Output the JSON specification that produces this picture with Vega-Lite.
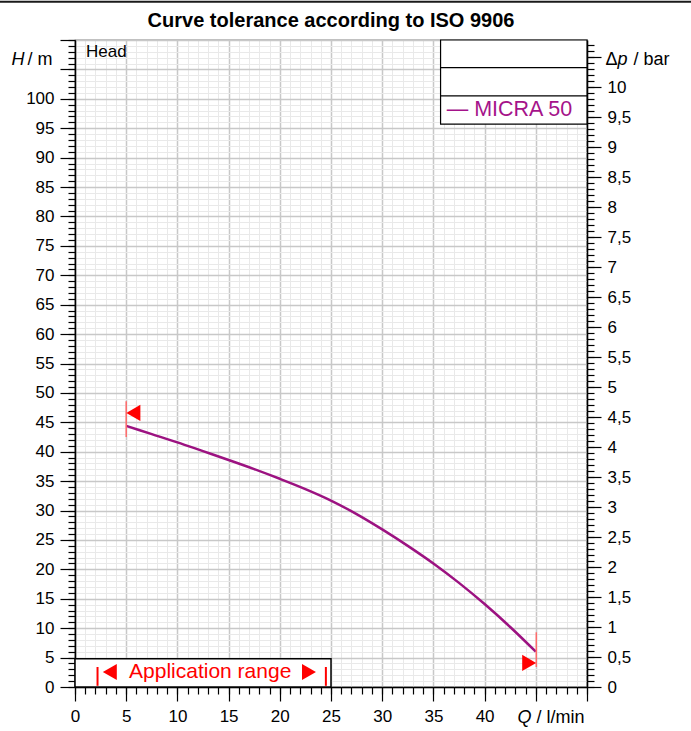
{
  "$schema": "https://vega.github.io/schema/vega-lite/v6.json",
  "width": 512,
  "height": 647,
  "autosize": {"type": "none"},
  "padding": {"left": 75, "top": 40, "right": 104, "bottom": 44},
  "background": "white",
  "config": {
    "view": {"stroke": "#000", "strokeWidth": 1.2},
    "font": "Liberation Sans",
    "axis": {"labelFont": "Liberation Sans", "titleFont": "Liberation Sans", "labelColor": "#000", "titleColor": "#000", "tickColor": "#000", "labelFontSize": 17, "titleFontSize": 18, "titleFontWeight": "normal", "domain": false, "labelOverlap": false, "labelFlush": false, "grid": false, "tickWidth": 1.2}
  },
  "datasets": {
    "curve": [
      {"Q": 5, "H": 44.4}, {"Q": 7.5, "H": 43.0}, {"Q": 10, "H": 41.6}, {"Q": 12.5, "H": 40.1},
      {"Q": 15, "H": 38.6}, {"Q": 17.5, "H": 37.05}, {"Q": 20, "H": 35.4}, {"Q": 22.5, "H": 33.65},
      {"Q": 25, "H": 31.7}, {"Q": 27.5, "H": 29.4}, {"Q": 30, "H": 26.8}, {"Q": 32.5, "H": 24.0},
      {"Q": 35, "H": 21.0}, {"Q": 37.5, "H": 17.7}, {"Q": 40, "H": 14.1}, {"Q": 42.5, "H": 10.2},
      {"Q": 45, "H": 6.0}
    ],
    "pressure": [{"dp": 0}, {"dp": 10}]
  },
  "resolve": {"scale": {"y": "independent"}, "axis": {"x": "independent", "y": "independent"}},
  "layer": [
    {
      "data": {"name": "curve"},
      "mark": {"type": "point", "opacity": 0},
      "encoding": {
        "x": {"field": "Q", "type": "quantitative", "scale": {"domain": [0, 50], "nice": false, "zero": false},
          "axis": {"orient": "bottom", "tickCount": 50, "grid": true, "gridColor": "#e9e9e9", "gridWidth": 1, "tickSize": 7, "labels": false,
            "title": "Q", "titleFontStyle": "italic", "titleAngle": 0, "titleAlign": "left", "titleBaseline": "middle", "titleX": 442, "titleY": 30}},
        "y": {"field": "H", "type": "quantitative", "scale": {"domain": [0, 110], "nice": false, "zero": false},
          "axis": {"orient": "left", "tickCount": 110, "grid": true, "gridColor": "#e9e9e9", "gridWidth": 1, "tickSize": 7, "labels": false,
            "title": "H", "titleFontStyle": "italic", "titleAngle": 0, "titleAlign": "left", "titleBaseline": "middle", "titleX": -64, "titleY": 19}}
      }
    },
    {
      "data": {"name": "curve"},
      "mark": {"type": "point", "opacity": 0},
      "encoding": {
        "x": {"field": "Q", "type": "quantitative", "scale": {"domain": [0, 50], "nice": false, "zero": false},
          "axis": {"orient": "bottom", "values": [0, 5, 10, 15, 20, 25, 30, 35, 40, 45, 50], "grid": true, "gridColor": "#c8c8c8", "gridWidth": 1.5, "tickSize": 14, "labelPadding": 7,
            "labelExpr": "datum.value <= 40 ? datum.label : ''", "domain": true, "domainColor": "#000", "domainWidth": 1.5,
            "title": "/ l/min", "titleAngle": 0, "titleAlign": "left", "titleBaseline": "middle", "titleX": 461, "titleY": 30}},
        "y": {"field": "H", "type": "quantitative", "scale": {"domain": [0, 110], "nice": false, "zero": false},
          "axis": {"orient": "left", "values": [0, 5, 10, 15, 20, 25, 30, 35, 40, 45, 50, 55, 60, 65, 70, 75, 80, 85, 90, 95, 100, 105, 110], "grid": true, "gridColor": "#c8c8c8", "gridWidth": 1.5, "tickSize": 15, "labelPadding": 6,
            "labelExpr": "datum.value <= 100 ? datum.label : ''", "domain": true, "domainColor": "#000", "domainWidth": 1.5,
            "title": "/ m", "titleAngle": 0, "titleAlign": "left", "titleBaseline": "middle", "titleX": -48, "titleY": 19}}
      }
    },
    {
      "data": {"name": "pressure"},
      "mark": {"type": "point", "opacity": 0},
      "encoding": {
        "y": {"field": "dp", "type": "quantitative", "scale": {"domain": [0, 10.787], "nice": false, "zero": false},
          "axis": {"orient": "right", "tickCount": 100, "tickSize": 7, "labels": false,
            "title": "p", "titleFontStyle": "italic", "titleAngle": 0, "titleAlign": "left", "titleBaseline": "middle", "titleX": 30, "titleY": 19}}
      }
    },
    {
      "data": {"name": "pressure"},
      "mark": {"type": "point", "opacity": 0},
      "encoding": {
        "y": {"field": "dp", "type": "quantitative", "scale": {"domain": [0, 10.787], "nice": false, "zero": false},
          "axis": {"orient": "right", "values": [0, 0.5, 1, 1.5, 2, 2.5, 3, 3.5, 4, 4.5, 5, 5.5, 6, 6.5, 7, 7.5, 8, 8.5, 9, 9.5, 10, 10.5], "tickSize": 14, "labelPadding": 6,
            "labelExpr": "datum.value <= 10 ? replace(format(datum.value, '~g'), '.', ',') : ''", "domain": true, "domainColor": "#000", "domainWidth": 1.5,
            "title": "Δ", "titleAngle": 0, "titleAlign": "left", "titleBaseline": "middle", "titleX": 18, "titleY": 19}}
      }
    },
    {
      "data": {"name": "pressure"},
      "mark": {"type": "point", "opacity": 0},
      "encoding": {
        "y": {"field": "dp", "type": "quantitative", "scale": {"domain": [0, 10.787], "nice": false, "zero": false},
          "axis": {"orient": "right", "ticks": false, "labels": false, "domain": false,
            "title": "/ bar", "titleAngle": 0, "titleAlign": "left", "titleBaseline": "middle", "titleX": 46, "titleY": 19}}
      }
    },
    {
      "data": {"values": [{"Q1": 0, "Q2": 25, "H1": 0, "H2": 4.8}]},
      "mark": {"type": "rect", "fill": "white", "stroke": "#000", "strokeWidth": 1.5},
      "encoding": {
        "x": {"field": "Q1", "type": "quantitative", "scale": {"domain": [0, 50], "nice": false, "zero": false}, "axis": null},
        "x2": {"field": "Q2"},
        "y": {"field": "H1", "type": "quantitative", "scale": {"domain": [0, 110], "nice": false, "zero": false}, "axis": null},
        "y2": {"field": "H2"}
      }
    },
    {
      "data": {"values": [{"Q1": 35.7, "Q2": 50, "H1": 95.7, "H2": 110}]},
      "mark": {"type": "rect", "fill": "white", "stroke": "#000", "strokeWidth": 1.2},
      "encoding": {
        "x": {"field": "Q1", "type": "quantitative", "scale": {"domain": [0, 50], "nice": false, "zero": false}, "axis": null},
        "x2": {"field": "Q2"},
        "y": {"field": "H1", "type": "quantitative", "scale": {"domain": [0, 110], "nice": false, "zero": false}, "axis": null},
        "y2": {"field": "H2"}
      }
    },
    {
      "data": {"values": [{"Q1": 35.7, "Q2": 50, "H": 105.3}, {"Q1": 35.7, "Q2": 50, "H": 100.5}]},
      "mark": {"type": "rule", "color": "#000", "strokeWidth": 1.2},
      "encoding": {
        "x": {"field": "Q1", "type": "quantitative", "scale": {"domain": [0, 50], "nice": false, "zero": false}, "axis": null},
        "x2": {"field": "Q2"},
        "y": {"field": "H", "type": "quantitative", "scale": {"domain": [0, 110], "nice": false, "zero": false}, "axis": null}
      }
    },
    {
      "data": {"name": "curve"},
      "mark": {"type": "line", "color": "#9c1281", "strokeWidth": 2.5, "interpolate": "monotone"},
      "encoding": {
        "x": {"field": "Q", "type": "quantitative", "scale": {"domain": [0, 50], "nice": false, "zero": false}, "axis": null},
        "y": {"field": "H", "type": "quantitative", "scale": {"domain": [0, 110], "nice": false, "zero": false}, "axis": null}
      }
    },
    {
      "data": {"values": [{"Q": 5, "H1": 42.5, "H2": 48.6}, {"Q": 45.05, "H1": 3.4, "H2": 9.3}]},
      "mark": {"type": "rule", "color": "#ff6a6a", "strokeWidth": 1.5},
      "encoding": {
        "x": {"field": "Q", "type": "quantitative", "scale": {"domain": [0, 50], "nice": false, "zero": false}, "axis": null},
        "y": {"field": "H1", "type": "quantitative", "scale": {"domain": [0, 110], "nice": false, "zero": false}, "axis": null},
        "y2": {"field": "H2"}
      }
    },
    {
      "data": {"values": [{"Q": 2.2, "H1": 0.2, "H2": 3.4}, {"Q": 24.5, "H1": 0.2, "H2": 3.4}]},
      "mark": {"type": "rule", "color": "#ff0000", "strokeWidth": 2},
      "encoding": {
        "x": {"field": "Q", "type": "quantitative", "scale": {"domain": [0, 50], "nice": false, "zero": false}, "axis": null},
        "y": {"field": "H1", "type": "quantitative", "scale": {"domain": [0, 110], "nice": false, "zero": false}, "axis": null},
        "y2": {"field": "H2"}
      }
    },
    {
      "data": {"values": [{"Q": 5.7, "H": 46.6}, {"Q": 3.4, "H": 2.55}]},
      "mark": {"type": "point", "shape": "triangle-left", "filled": true, "color": "#ff0000", "opacity": 1, "size": 260},
      "encoding": {
        "x": {"field": "Q", "type": "quantitative", "scale": {"domain": [0, 50], "nice": false, "zero": false}, "axis": null},
        "y": {"field": "H", "type": "quantitative", "scale": {"domain": [0, 110], "nice": false, "zero": false}, "axis": null}
      }
    },
    {
      "data": {"values": [{"Q": 44.35, "H": 4.1}, {"Q": 22.85, "H": 2.55}]},
      "mark": {"type": "point", "shape": "triangle-right", "filled": true, "color": "#ff0000", "opacity": 1, "size": 260},
      "encoding": {
        "x": {"field": "Q", "type": "quantitative", "scale": {"domain": [0, 50], "nice": false, "zero": false}, "axis": null},
        "y": {"field": "H", "type": "quantitative", "scale": {"domain": [0, 110], "nice": false, "zero": false}, "axis": null}
      }
    },
    {
      "data": {"values": [{"Q": 1.07, "H": 108.0, "label": "Head"}]},
      "mark": {"type": "text", "align": "left", "baseline": "middle", "font": "Liberation Sans", "fontSize": 17, "color": "#000"},
      "encoding": {
        "x": {"field": "Q", "type": "quantitative", "scale": {"domain": [0, 50], "nice": false, "zero": false}, "axis": null},
        "y": {"field": "H", "type": "quantitative", "scale": {"domain": [0, 110], "nice": false, "zero": false}, "axis": null},
        "text": {"field": "label"}
      }
    },
    {
      "data": {"values": [{"Q": 36.3, "H": 98.1, "label": "— MICRA 50"}]},
      "mark": {"type": "text", "align": "left", "baseline": "middle", "font": "Liberation Sans", "fontSize": 21.5, "color": "#a5138a"},
      "encoding": {
        "x": {"field": "Q", "type": "quantitative", "scale": {"domain": [0, 50], "nice": false, "zero": false}, "axis": null},
        "y": {"field": "H", "type": "quantitative", "scale": {"domain": [0, 110], "nice": false, "zero": false}, "axis": null},
        "text": {"field": "label"}
      }
    },
    {
      "data": {"values": [{"Q": 13.2, "H": 2.55, "label": "Application range"}]},
      "mark": {"type": "text", "align": "center", "baseline": "middle", "font": "Liberation Sans", "fontSize": 21, "color": "#ff0000"},
      "encoding": {
        "x": {"field": "Q", "type": "quantitative", "scale": {"domain": [0, 50], "nice": false, "zero": false}, "axis": null},
        "y": {"field": "H", "type": "quantitative", "scale": {"domain": [0, 110], "nice": false, "zero": false}, "axis": null},
        "text": {"field": "label"}
      }
    },
    {
      "data": {"values": [{"Q": 25, "H": 113.2, "label": "Curve tolerance according to ISO 9906"}]},
      "mark": {"type": "text", "align": "center", "baseline": "middle", "font": "Liberation Sans", "fontSize": 20, "fontWeight": "bold", "color": "#000", "clip": false},
      "encoding": {
        "x": {"field": "Q", "type": "quantitative", "scale": {"domain": [0, 50], "nice": false, "zero": false}, "axis": null},
        "y": {"field": "H", "type": "quantitative", "scale": {"domain": [0, 110], "nice": false, "zero": false}, "axis": null},
        "text": {"field": "label"}
      }
    },
    {
      "data": {"values": [{"Q1": -8, "Q2": 61, "H": 116.5}]},
      "mark": {"type": "rule", "color": "#1a1a1a", "strokeWidth": 2, "clip": false},
      "encoding": {
        "x": {"field": "Q1", "type": "quantitative", "scale": {"domain": [0, 50], "nice": false, "zero": false}, "axis": null},
        "x2": {"field": "Q2"},
        "y": {"field": "H", "type": "quantitative", "scale": {"domain": [0, 110], "nice": false, "zero": false}, "axis": null}
      }
    }
  ]
}
